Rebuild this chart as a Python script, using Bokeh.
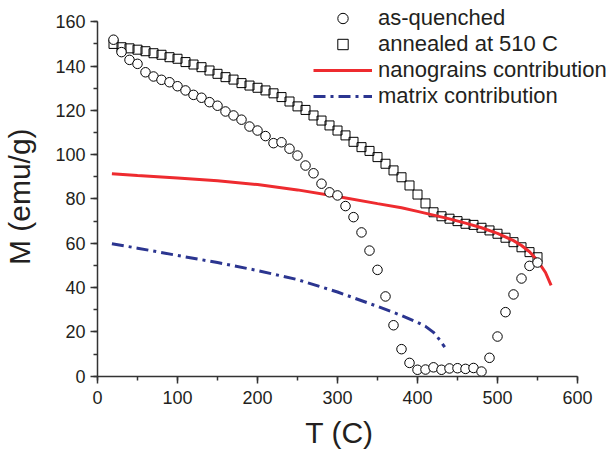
import math
from bokeh.plotting import figure
from bokeh.models import (Legend, LegendItem, SingleIntervalTicker, Range1d,
                          Label)
from bokeh.embed import file_html
from bokeh.resources import INLINE

# as-quenched (circles)
T_q = [20, 30, 40, 50, 60, 70, 80, 90, 100, 110,
       120, 130, 140, 150, 160, 170, 180, 190, 200, 210,
       220, 230, 240, 250, 260, 270, 280, 290, 300, 310,
       320, 330, 340, 350, 360, 370, 380, 390, 400, 410,
       420, 430, 440, 450, 460, 470, 480, 490, 500, 510,
       520, 530, 540, 550]
M_q = [151.9, 146.3, 142.8, 141.0, 137.2, 135.3, 133.8, 132.7, 130.9, 129.0,
       127.0, 125.7, 123.7, 122.1, 119.5, 117.7, 115.8, 112.7, 110.9, 108.4,
       105.2, 105.6, 102.7, 99.6, 95.1, 91.6, 86.9, 83.0, 81.6, 76.8,
       71.8, 64.9, 56.7, 48.0, 36.0, 23.0, 12.2, 6.0, 2.9, 3.0,
       4.0, 2.9, 3.5, 3.6, 3.3, 3.7, 2.1, 8.3, 17.9, 28.9,
       36.9, 44.1, 49.8, 51.3]

# annealed at 510 C (squares)
T_a = [20, 30, 40, 50, 60, 70, 80, 90, 100, 110,
       120, 130, 140, 150, 160, 170, 180, 190, 200, 210,
       220, 230, 240, 250, 260, 270, 280, 290, 300, 310,
       320, 330, 340, 350, 360, 370, 380, 390, 400, 410,
       420, 430, 440, 450, 460, 470, 480, 490, 500, 510,
       520, 530, 540, 550]
M_a = [150.0, 148.5, 148.0, 147.4, 146.7, 145.8, 145.1, 144.0, 143.3, 141.8,
       140.7, 139.5, 138.0, 136.5, 135.0, 133.9, 132.3, 131.2, 130.2, 129.0,
       127.7, 126.0, 124.0, 121.8, 120.2, 117.7, 115.4, 113.2, 110.9, 108.7,
       105.8, 103.4, 101.7, 98.9, 95.9, 92.9, 89.8, 86.1, 82.0, 78.0,
       74.0, 72.2, 71.1, 70.0, 68.8, 68.3, 67.0, 65.8, 64.3, 62.5,
       60.5, 58.2, 56.0, 53.7]

# nanograins contribution (red line)
T_n = [18, 50, 100, 150, 200, 250, 300, 350, 380, 400, 420, 440, 460, 480,
       500, 520, 530, 540, 550, 560, 567]
M_n = [91.4, 90.6, 89.5, 88.2, 86.5, 84.1, 81.1, 77.9, 76.0, 74.4, 72.7, 71.0,
       69.1, 67.0, 64.5, 61.2, 59.0, 56.2, 52.2, 46.8, 41.0]

# matrix contribution (blue dash-dot)
T_m = [18, 50, 100, 150, 200, 250, 300, 350, 380, 400, 410, 420, 428, 434]
M_m = [59.8, 57.8, 54.5, 51.3, 47.7, 43.6, 38.0, 31.5, 27.4, 24.3, 22.5,
       19.8, 16.3, 13.1]

labels = ["as-quenched", "annealed at 510 C", "nanograins contribution",
          "matrix contribution"]
x_title = "T (C)"
y_title = "M (emu/g)"
x_axis_span = (0, 600)
y_axis_span = (0, 160)

FONT = "Liberation Sans"
TXT = "#231F20"

# The frame covers the whole canvas; the axes are pinned at the origin
# (fixed_location) and limited to their drawn spans via bounds.
p = figure(width=612, height=452, output_backend="svg", toolbar_location=None,
           x_range=Range1d(-121.25, 643.75), y_range=Range1d(-34.45, 169.6),
           min_border_left=0, min_border_right=0, min_border_top=0,
           min_border_bottom=0)
p.outline_line_color = None
p.xgrid.visible = False
p.ygrid.visible = False
p.background_fill_color = "white"
p.border_fill_color = "white"

p.xaxis.ticker = SingleIntervalTicker(interval=100, num_minor_ticks=2)
p.yaxis.ticker = SingleIntervalTicker(interval=20, num_minor_ticks=2)
p.xaxis.bounds = x_axis_span
p.yaxis.bounds = y_axis_span
p.xaxis.fixed_location = y_axis_span[0]
p.yaxis.fixed_location = x_axis_span[0]
for ax in (p.xaxis, p.yaxis):
    ax.axis_line_color = "#333333"
    ax.axis_line_width = 1.5
    ax.major_tick_line_color = "#333333"
    ax.minor_tick_line_color = "#333333"
    ax.major_tick_line_width = 1.5
    ax.minor_tick_line_width = 1.5
    ax.major_tick_out = 7
    ax.major_tick_in = 0
    ax.minor_tick_out = 4
    ax.minor_tick_in = 0
    ax.major_label_text_font = FONT
    ax.major_label_text_font_size = "18px"
    ax.major_label_text_color = TXT
p.xaxis.major_label_standoff = 8
p.yaxis.major_label_standoff = 5

# axis titles (positions in data units, outside the axis spans)
p.add_layout(Label(x=302.5, y=-25.2, text=x_title, text_align="center",
                   text_baseline="alphabetic", text_font=FONT,
                   text_font_size="30px", text_color=TXT))
p.add_layout(Label(x=-97.2, y=81.0, text=y_title, angle=math.pi / 2,
                   text_align="center", text_baseline="alphabetic",
                   text_font=FONT, text_font_size="30px", text_color=TXT))

r_a = p.scatter(T_a, M_a, marker="square", size=9, line_color="black",
                line_width=1, fill_alpha=0)
r_n = p.line(T_n, M_n, line_color="#EE2B2F", line_width=3)
r_m = p.line(T_m, M_m, line_color="#2B3590", line_width=3,
             line_dash="12 5 3 5")
r_q = p.scatter(T_q, M_q, marker="circle", size=9.5, line_color="black",
                line_width=1, fill_color="white")

legend = Legend(items=[LegendItem(label=labels[0], renderers=[r_q]),
                       LegendItem(label=labels[1], renderers=[r_a]),
                       LegendItem(label=labels[2], renderers=[r_n]),
                       LegendItem(label=labels[3], renderers=[r_m])],
                location=(313, 343), orientation="vertical",
                glyph_width=59, glyph_height=26, label_height=26,
                label_width=10, spacing=0, padding=0, margin=0,
                label_standoff=6, label_text_font=FONT,
                label_text_font_size="22px", label_text_color=TXT,
                background_fill_alpha=0, border_line_alpha=0)
p.add_layout(legend, "center")

open("out.html", "w").write(file_html(p, INLINE))
